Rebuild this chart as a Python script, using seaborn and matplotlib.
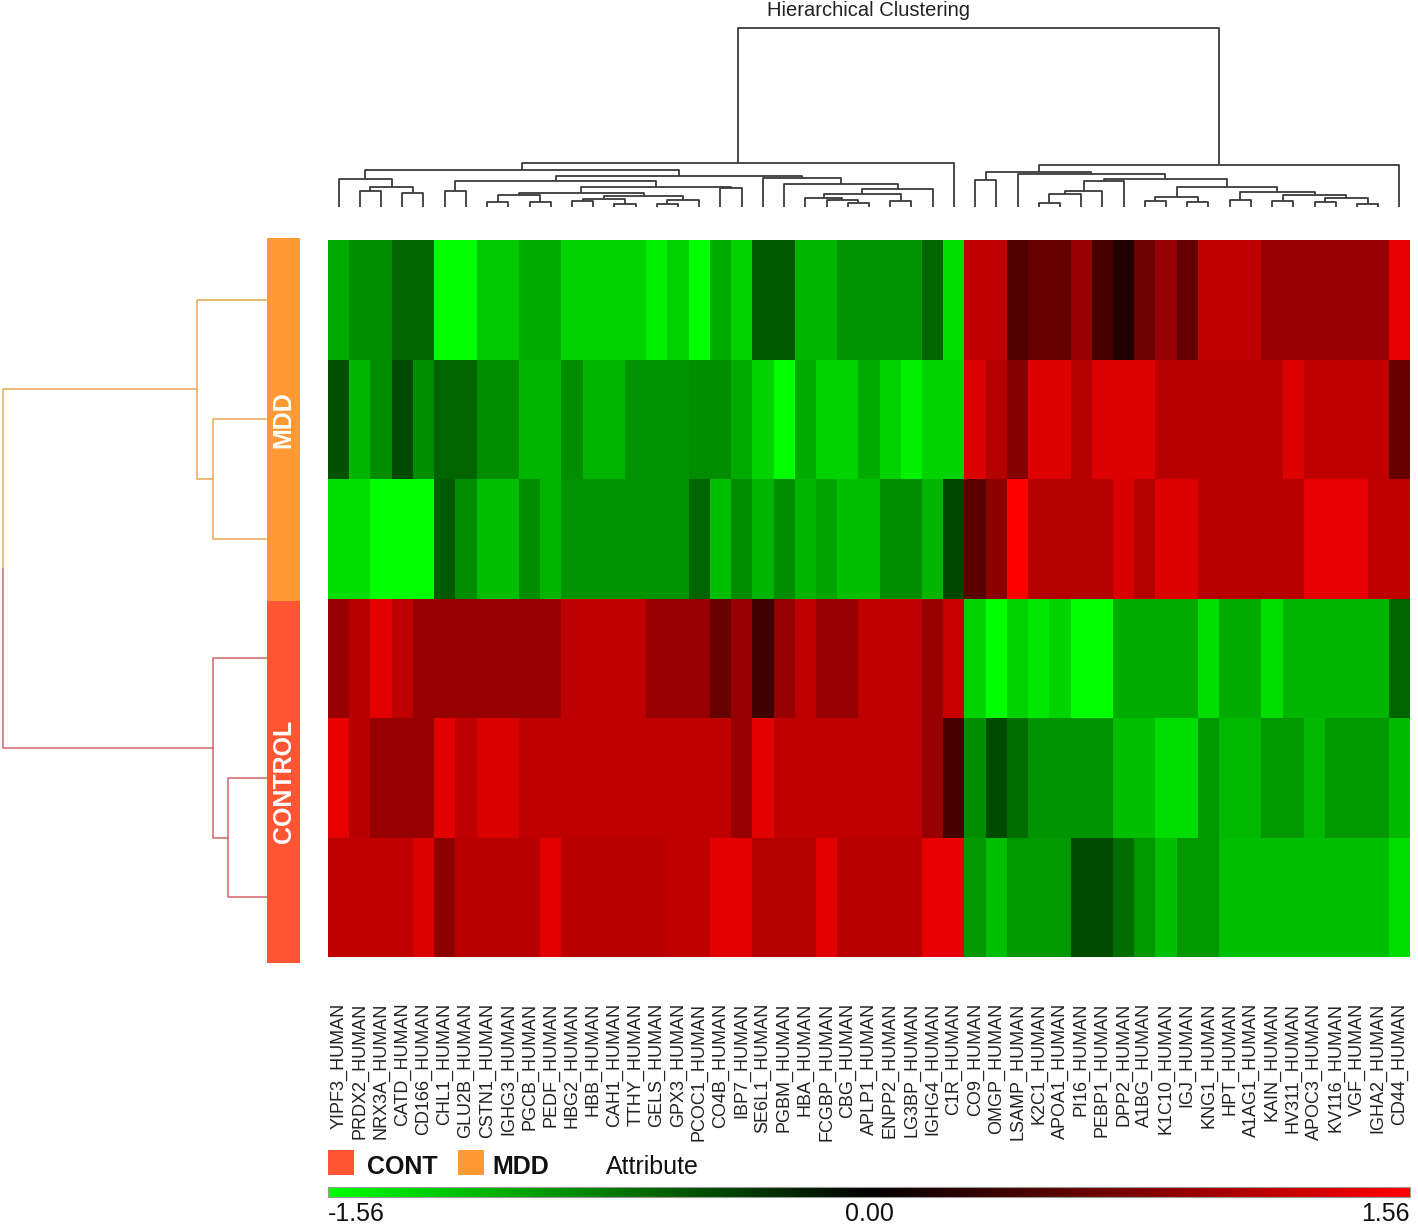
import numpy as np
import pandas as pd
import matplotlib
matplotlib.use("Agg")
import matplotlib.pyplot as plt
import seaborn as sns
from matplotlib.colors import LinearSegmentedColormap
from matplotlib.patches import Rectangle
from matplotlib.transforms import blended_transform_factory

# ---- data ----
proteins = ["YIPF3", "PRDX2", "NRX3A", "CATD", "CD166", "CHL1", "GLU2B", "CSTN1", "IGHG3", "PGCB",
            "PEDF", "HBG2", "HBB", "CAH1", "TTHY", "GELS", "GPX3", "PCOC1", "CO4B", "IBP7",
            "SE6L1", "PGBM", "HBA", "FCGBP", "CBG", "APLP1", "ENPP2", "LG3BP", "IGHG4", "C1R",
            "CO9", "OMGP", "LSAMP", "K2C1", "APOA1", "PI16", "PEBP1", "DPP2", "A1BG", "K1C10",
            "IGJ", "KNG1", "HPT", "A1AG1", "KAIN", "HV311", "APOC3", "KV116", "VGF", "IGHA2",
            "CD44"]
protein_labels = [p + "_HUMAN" for p in proteins]

sample_groups = ["MDD", "MDD", "MDD", "CONTROL", "CONTROL", "CONTROL"]

mdd_1 = [-1.04, -0.86, -0.86, -0.61, -0.61, -1.56, -1.56, -1.22, -1.22, -1.04,
         -1.04, -1.28, -1.28, -1.28, -1.28, -1.47, -1.28, -1.56, -1.04, -1.28,
         -0.55, -0.55, -1.10, -1.10, -0.89, -0.89, -0.89, -0.89, -0.61, -1.35,
         1.16, 1.16, 0.49, 0.61, 0.61, 0.92, 0.43, 0.21, 0.67, 0.92,
         0.61, 1.16, 1.16, 1.16, 0.92, 0.92, 0.92, 0.92, 0.92, 0.92,
         1.41]
mdd_2 = [-0.49, -1.10, -0.86, -0.46, -0.86, -0.61, -0.61, -0.86, -0.86, -1.10,
         -1.10, -0.86, -1.10, -1.10, -0.89, -0.89, -0.89, -0.86, -0.86, -1.04,
         -1.28, -1.56, -1.04, -1.28, -1.28, -1.04, -1.28, -1.47, -1.28, -1.28,
         1.35, 1.10, 0.80, 1.35, 1.35, 1.10, 1.35, 1.35, 1.35, 1.13,
         1.13, 1.13, 1.13, 1.13, 1.13, 1.35, 1.16, 1.16, 1.16, 1.16,
         0.61]
mdd_3 = [-1.35, -1.35, -1.56, -1.56, -1.56, -0.55, -0.86, -1.16, -1.16, -0.86,
         -1.10, -0.89, -0.89, -0.89, -0.89, -0.89, -0.89, -0.61, -1.16, -0.86,
         -1.10, -0.86, -1.10, -1.01, -1.16, -1.16, -0.86, -0.86, -1.10, -0.43,
         0.55, 0.86, 1.56, 1.10, 1.10, 1.10, 1.10, 1.32, 1.10, 1.35,
         1.35, 1.13, 1.13, 1.13, 1.13, 1.13, 1.41, 1.41, 1.41, 1.16,
         1.16]
control_1 = [0.92, 1.13, 1.38, 1.16, 0.92, 0.92, 0.92, 0.92, 0.92, 0.92,
             0.92, 1.16, 1.16, 1.16, 1.16, 0.92, 0.92, 0.92, 0.64, 0.92,
             0.40, 0.92, 1.16, 0.92, 0.92, 1.16, 1.16, 1.16, 0.92, 1.22,
             -1.28, -1.56, -1.28, -1.41, -1.28, -1.56, -1.56, -1.04, -1.04, -1.04,
             -1.04, -1.35, -1.04, -1.04, -1.35, -1.10, -1.10, -1.10, -1.10, -1.10,
             -0.61]
control_2 = [1.41, 1.13, 0.92, 0.92, 0.92, 1.38, 1.16, 1.32, 1.32, 1.16,
             1.16, 1.16, 1.16, 1.16, 1.16, 1.16, 1.16, 1.16, 1.16, 0.92,
             1.38, 1.16, 1.16, 1.16, 1.16, 1.16, 1.16, 1.16, 0.92, 0.43,
             -0.86, -0.46, -0.67, -0.89, -0.89, -0.89, -0.89, -1.16, -1.16, -1.35,
             -1.35, -0.92, -1.13, -1.13, -0.92, -0.92, -1.13, -0.92, -0.92, -0.92,
             -1.13]
control_3 = [1.16, 1.16, 1.16, 1.16, 1.35, 0.86, 1.13, 1.13, 1.13, 1.13,
             1.38, 1.13, 1.13, 1.13, 1.13, 1.13, 1.16, 1.16, 1.38, 1.38,
             1.10, 1.10, 1.10, 1.38, 1.13, 1.13, 1.13, 1.13, 1.41, 1.41,
             -0.92, -1.16, -0.92, -0.92, -0.92, -0.46, -0.46, -0.67, -0.92, -1.16,
             -0.92, -0.92, -1.16, -1.16, -1.16, -1.16, -1.16, -1.16, -1.16, -1.16,
             -1.35]

value_min, value_max = -1.56, 1.56
scale_ticks = [-1.56, 0.00, 1.56]

# column tree (linkage style: new node ids start at 51)
col_left = [1, 3, 51, 0, 5, 7, 9, 56, 11, 13, 59, 15, 62, 61, 58, 18, 65, 55, 24, 23,
            22, 26, 71, 73, 21, 20, 68, 54, 78,
            30, 33, 81, 82, 83, 38, 40, 85, 42, 44, 46, 48, 90, 89, 88, 87, 84, 32, 80, 98, 79]
col_right = [2, 4, 52, 53, 6, 8, 10, 57, 12, 14, 60, 16, 17, 63, 64, 19, 66, 67, 25, 69,
             70, 27, 72, 28, 74, 75, 76, 77, 29,
             31, 34, 35, 36, 37, 39, 41, 86, 43, 45, 47, 49, 91, 92, 93, 94, 95, 96, 97, 50, 99]
col_height = [16, 14, 20, 28, 16, 5, 5, 12.5, 6, 3, 8, 3, 7, 11, 14, 19, 20, 26, 4, 7,
              9, 6, 13, 18, 23, 29.5, 31, 37, 44,
              27, 4, 13, 16, 26, 6, 5, 10, 7, 6, 5, 3, 9, 12, 15, 20, 28, 33, 35, 42, 179]

# row tree (new node ids start at 6)
row_left = [1, 0, 4, 3, 7]
row_right = [2, 6, 5, 8, 9]
row_height = [54, 70, 39, 54, 264]

group_colors = {"MDD": "#FF9933", "CONTROL": "#FF5533"}
branch_colors = {"MDD": "#E8A850", "CONTROL": "#D2646A"}

# ---- helpers ----
W, H = 1418, 1225


def box(x0, y0, x1, y1):
    return [x0 / W, 1 - y1 / H, (x1 - x0) / W, (y1 - y0) / H]


def tree_links(n_leaves, left, right, height):
    pos = list(np.arange(n_leaves) + 0.5)
    hgt = [0.0] * n_leaves
    links = []
    for a, b, h in zip(left, right, height):
        links.append((a, b, pos[a], hgt[a], pos[b], hgt[b], h))
        pos.append((pos[a] + pos[b]) / 2)
        hgt.append(h)
    return links


sns.set_theme(style="white")
plt.rcParams["font.family"] = ["Liberation Sans", "DejaVu Sans"]

df = pd.DataFrame([mdd_1, mdd_2, mdd_3, control_1, control_2, control_3],
                  index=sample_groups, columns=protein_labels)

cmap = LinearSegmentedColormap.from_list("gkr", ["#00FF00", "#000000", "#FF0000"])

fig = plt.figure(figsize=(W / 100, H / 100), dpi=100)
ax_heat = fig.add_axes(box(328, 240, 1410, 957))
ax_side = fig.add_axes(box(267, 238, 300, 963))
ax_row = fig.add_axes(box(0, 240, 267, 957))
ax_col = fig.add_axes(box(328, 20, 1410, 207))
cax = fig.add_axes(box(328, 1187, 1410, 1197))

# heatmap
sns.heatmap(df, ax=ax_heat, cmap=cmap, vmin=value_min, vmax=value_max,
            xticklabels=protein_labels, yticklabels=False,
            cbar_ax=cax, cbar_kws={"orientation": "horizontal"})
ax_heat.set_xlabel("")
ax_heat.set_ylabel("")
ax_heat.tick_params(axis="x", length=0, pad=33, labelsize=13, labelcolor="#222222")
for lab in ax_heat.get_xticklabels():
    lab.set_rotation(90)

# colour scale
cbar = ax_heat.collections[0].colorbar
cbar.set_ticks([])
cbar.outline.set_edgecolor("#999999")
cbar.outline.set_linewidth(0.8)
tr = blended_transform_factory(cax.transData, cax.transAxes)
for v, ha in zip(scale_ticks, ["left", "center", "right"]):
    cax.text(v, -1.7, f"{v:.2f}", transform=tr, ha=ha, va="center", fontsize=18, color="#111111")

# group side bar
ax_side.barh(np.arange(len(sample_groups)) + 0.5, 1, height=1,
             color=[group_colors[g] for g in sample_groups], linewidth=0)
ax_side.set_ylim(len(sample_groups), 0)
ax_side.set_xlim(0, 1)
ax_side.axis("off")
for g in ["MDD", "CONTROL"]:
    idx = [i for i, s in enumerate(sample_groups) if s == g]
    ax_side.text(0.5, np.mean(idx) + 0.5, g, rotation=90, ha="center", va="center",
                 color="white", fontsize=18, fontweight="bold")

# column dendrogram
for a, b, xa, ha_, xb, hb, h in tree_links(len(proteins), col_left, col_right, col_height):
    ax_col.plot([xa, xa, xb, xb], [ha_, h, h, hb], color="#3a3a3a", lw=1.3,
                solid_capstyle="butt")
ax_col.set_xlim(0, len(proteins))
ax_col.set_ylim(0, 187)
ax_col.axis("off")

# row dendrogram
n_rows = len(sample_groups)
node_group = list(sample_groups)
for a, b, ya, ha_, yb, hb, h in tree_links(n_rows, row_left, row_right, row_height):
    ga, gb = node_group[a], node_group[b]
    ym = (ya + yb) / 2
    ax_row.plot([ha_, h, h], [ya, ya, ym], color=branch_colors[ga], lw=1.1)
    ax_row.plot([h, h, hb], [ym, yb, yb], color=branch_colors[gb], lw=1.1)
    node_group.append(ga if ga == gb else "MIXED")
ax_row.set_ylim(n_rows, 0)
ax_row.set_xlim(267, 0)
ax_row.axis("off")

# title
fig.text(868 / W, 1 - 10 / H, "Hierarchical Clustering", ha="center", va="center",
         fontsize=14.5, color="#222222")

# legend
legend_items = [("CONT", group_colors["CONTROL"], 328, 367), ("MDD", group_colors["MDD"], 458, 492)]
for name, col, sx, tx in legend_items:
    fig.patches.append(Rectangle((sx / W, 1 - 1175 / H), 26 / W, 25 / H,
                                 transform=fig.transFigure, color=col, lw=0))
    fig.text(tx / W, 1 - 1167 / H, name, ha="left", va="center", fontsize=18,
             fontweight="bold", color="#111111")
fig.text(606 / W, 1 - 1167 / H, "Attribute", ha="left", va="center", fontsize=18, color="#111111")

fig.savefig("out.png", dpi=100)
